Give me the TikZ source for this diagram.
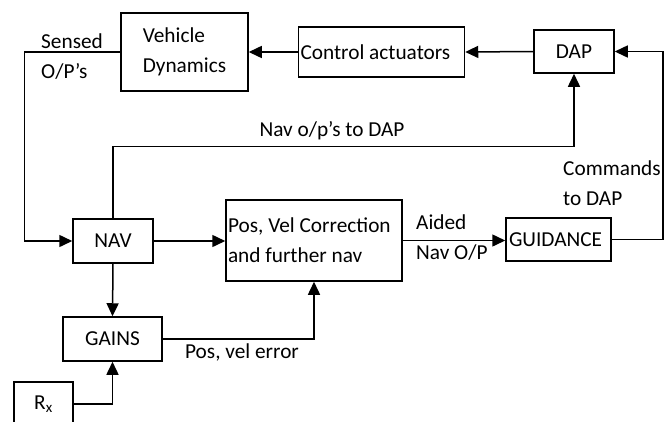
\documentclass[tikz,border=0pt]{standalone}
\usepackage{fontspec}
\setmainfont{Carlito}
\usetikzlibrary{arrows.meta,positioning}
\tikzstyle{block} = [rectangle, draw=black, line width=1.5pt, inner sep=1pt, align=center]
\tikzstyle{lbl} = [inner sep=0pt, align=flush left]
\tikzstyle{arrow} = [line width=1.5pt, -{Triangle[length=13pt,width=12pt]}]

\begin{document}
\begin{tikzpicture}[x=1pt, y=-1pt, font=\fontsize{21.3}{30}\selectfont]
\useasboundingbox (0,0) rectangle (667,421);
% Top row
\node[block, minimum width=127pt, minimum height=78pt, align=flush left] (dyn) at (184.5,52) {Vehicle\\Dynamics};
\node[block, text width=162pt, inner xsep=2pt, minimum height=50pt, align=flush left] (act) at (381.5,52) {Control actuators};
\node[block, minimum width=80pt, minimum height=43pt] (dap) at (574,51.5) {DAP};

% Middle row
\node[block, minimum width=80pt, minimum height=44pt] (nav) at (113,241) {NAV};
\node[block, text width=172pt, inner xsep=2pt, minimum height=81pt, align=flush left] (corr) at (314,240.5) {Pos, Vel Correction\\and further nav};
\node[block, text width=99pt, inner xsep=3pt, minimum height=43pt, align=flush left] (guid) at (558.5,239.5) {GUIDANCE};

% Bottom
\node[block, minimum width=99pt, minimum height=44pt] (gains) at (112.5,339) {GAINS};
\node[block, minimum width=59pt, minimum height=44pt] (rx) at (43.5,404) {R\textsubscript{x}};

% Forward path
\draw[arrow] (dap.west) -- (act.east);
\draw[arrow] (act.west) -- (dyn.east);
\draw[arrow] (nav.east) -- (nav.east -| corr.west);
\draw[arrow] (corr.east) -- (corr.east -| guid.west);
\draw[arrow] (nav.south) -- (gains.north);
\draw[arrow] (gains.east) -| (corr.south);
\draw[arrow] (rx.east) -| (gains.south);

% Feedback
\draw[arrow] (dyn.west) -- ++(-96,0) |- (nav.west);
\draw[arrow] (nav.north) -- ++(0,-72) -| (dap.south);
\draw[arrow] (guid.east) -- ++(51,0) |- (dap.east);

% Labels
\node[lbl, anchor=west] (sensed) at (41,57) {Sensed\\O/P’s};
\node[lbl] (navout) at (332,131) {Nav o/p’s to DAP};
\node[lbl, anchor=west] (cmd) at (563,183) {Commands\\to DAP};
\node[lbl, anchor=west] (aided) at (416,238) {Aided\\Nav O/P};
\node[lbl] (err) at (242,352) {Pos, vel error};
\end{tikzpicture}
\end{document}
